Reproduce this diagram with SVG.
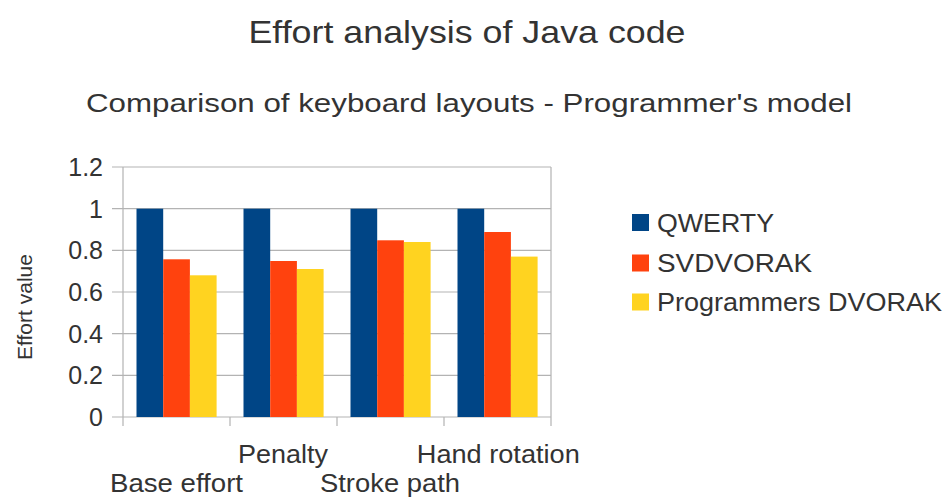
<svg xmlns="http://www.w3.org/2000/svg" width="950" height="497" viewBox="0 0 950 497">
<style>
text{font-family:"Liberation Sans",Arial,sans-serif;fill:#333333}
.grid{stroke:#b3b3b3;stroke-width:1.2;fill:none}
.q{fill:#004586}
.s{fill:#ff420e}
.p{fill:#ffd320}
.ax{font-size:25px;text-anchor:end}
.cat{font-size:25px;text-anchor:middle}
.leg{font-size:25px}
</style>
<rect width="950" height="497" fill="#ffffff"/>
<g id="titles">
<text x="467" y="43" font-size="32" text-anchor="middle" textLength="437" lengthAdjust="spacingAndGlyphs">Effort analysis of Java code</text>
<text x="469" y="112" font-size="26" text-anchor="middle" textLength="766" lengthAdjust="spacingAndGlyphs">Comparison of keyboard layouts - Programmer's model</text>
</g>
<g id="grid">
<path class="grid" d="M112 167H551M112 208.7H551M112 250.3H551M112 292H551M112 333.7H551M112 375.3H551M112 417H551"/>
<path class="grid" d="M123 167V426M551 167V426M230 417V426M337 417V426M444 417V426"/>
</g>
<g id="y-axis">
<text class="ax" x="103" y="176">1.2</text>
<text class="ax" x="103" y="217.7">1</text>
<text class="ax" x="103" y="259.3">0.8</text>
<text class="ax" x="103" y="301">0.6</text>
<text class="ax" x="103" y="342.7">0.4</text>
<text class="ax" x="103" y="384.3">0.2</text>
<text class="ax" x="103" y="426">0</text>
<text x="0" y="0" font-size="21" text-anchor="middle" transform="translate(32 307) rotate(-90)">Effort value</text>
</g>
<g id="bars-base-effort">
<rect class="q" x="136.5" y="208.7" width="26.7" height="208.3"/>
<rect class="s" x="163.2" y="259.3" width="26.7" height="157.7"/>
<rect class="p" x="189.9" y="275.3" width="26.7" height="141.7"/>
</g>
<g id="bars-penalty">
<rect class="q" x="243.5" y="208.7" width="26.7" height="208.3"/>
<rect class="s" x="270.2" y="261" width="26.7" height="156"/>
<rect class="p" x="296.9" y="269" width="26.7" height="148"/>
</g>
<g id="bars-stroke-path">
<rect class="q" x="350.5" y="208.7" width="26.7" height="208.3"/>
<rect class="s" x="377.2" y="240.3" width="26.7" height="176.7"/>
<rect class="p" x="403.9" y="242" width="26.7" height="175"/>
</g>
<g id="bars-hand-rotation">
<rect class="q" x="457.5" y="208.7" width="26.7" height="208.3"/>
<rect class="s" x="484.2" y="232" width="26.7" height="185"/>
<rect class="p" x="510.9" y="256.6" width="26.7" height="160.4"/>
</g>
<g id="categories">
<text class="cat" x="176.5" y="492" textLength="133" lengthAdjust="spacingAndGlyphs">Base effort</text>
<text class="cat" x="283" y="462.7" textLength="90" lengthAdjust="spacingAndGlyphs">Penalty</text>
<text class="cat" x="390" y="492" textLength="140" lengthAdjust="spacingAndGlyphs">Stroke path</text>
<text class="cat" x="498.3" y="462.7" textLength="163" lengthAdjust="spacingAndGlyphs">Hand rotation</text>
</g>
<g id="legend">
<rect class="q" x="632" y="214" width="17" height="17"/>
<text class="leg" x="657" y="231.7" textLength="117" lengthAdjust="spacingAndGlyphs">QWERTY</text>
<rect class="s" x="632" y="254.5" width="17" height="17"/>
<text class="leg" x="657" y="271.7" textLength="155" lengthAdjust="spacingAndGlyphs">SVDVORAK</text>
<rect class="p" x="632" y="293.5" width="17" height="17"/>
<text class="leg" x="657" y="310.5" textLength="285" lengthAdjust="spacingAndGlyphs">Programmers DVORAK</text>
</g>
</svg>
